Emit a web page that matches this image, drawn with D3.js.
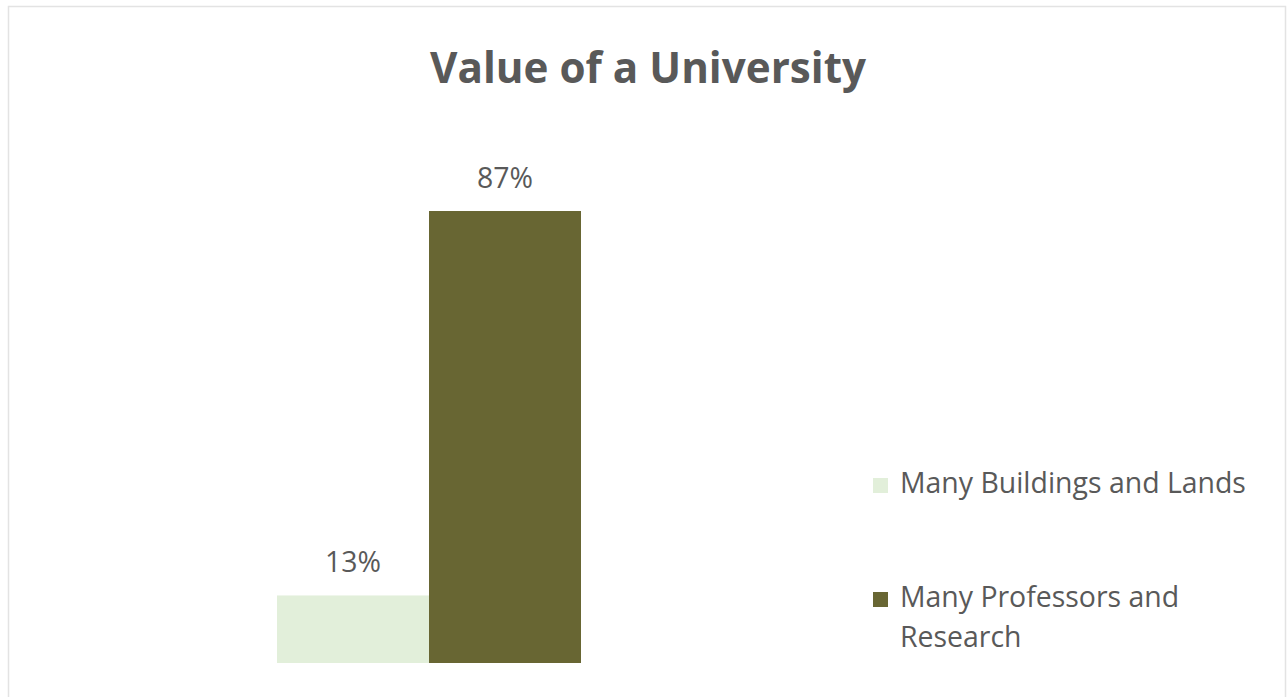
<!DOCTYPE html>
<html>
<head>
<meta charset="utf-8">
<script src="https://cdn.jsdelivr.net/npm/d3@7"></script>
<style>
  html, body { margin: 0; padding: 0; background: #ffffff; }
  svg { display: block; }
</style>
</head>
<body>
<svg id="chart" width="1287" height="697"></svg>
<script>
// Chart content
const title = "Value of a University";
const category = ["Value"];
const seriesNames = ["Many Buildings and Lands", "Many Professors and Research"];
const seriesValues = [13, 87];
const seriesColors = ["#E2EFDA", "#686633"];
const legendLines = [["Many Buildings and Lands"], ["Many Professors and", "Research"]];

const svg = d3.select("#chart");
const font = "'Open Sans', 'Liberation Sans', sans-serif";
const textColor = "#595959";

// Chart area frame
svg.append("rect")
  .attr("x", 8.5).attr("y", 6.5)
  .attr("width", 1277).attr("height", 700)
  .attr("fill", "#ffffff")
  .attr("stroke", "#e3e3e3")
  .attr("stroke-width", 1.5);

// Fit a text element to a target width by adjusting its font size
function fitWidth(sel, target) {
  const node = sel.node();
  const fs = parseFloat(sel.attr("font-size"));
  const w = node.getComputedTextLength();
  if (w > 0) sel.attr("font-size", (fs * target / w).toFixed(2));
}

// Title
const t = svg.append("text")
  .attr("x", 648).attr("y", 83)
  .attr("text-anchor", "middle")
  .attr("font-family", font)
  .attr("font-weight", 700)
  .attr("font-size", 40)
  .attr("fill", textColor)
  .text(title);
fitWidth(t, 436);

// Scales
const plotTop = 150, plotBottom = 663;
const x0 = d3.scaleBand().domain(category).range([125, 733]).paddingInner(0).paddingOuter(0.5);
const x1 = d3.scaleBand().domain(seriesNames).range([0, x0.bandwidth()]).padding(0);
const y = d3.scaleLinear().domain([0, 87 * (plotBottom - plotTop) / (plotBottom - 211)]).range([plotBottom, plotTop]);

const data = seriesNames.map((name, i) => ({ name, value: seriesValues[i], color: seriesColors[i] }));

const g = svg.append("g").attr("transform", `translate(${x0(category[0])},0)`);

g.selectAll("rect.bar")
  .data(data)
  .join("rect")
  .attr("class", "bar")
  .attr("x", d => x1(d.name))
  .attr("width", x1.bandwidth())
  .attr("y", d => y(d.value))
  .attr("height", d => y(0) - y(d.value))
  .attr("fill", d => d.color);

// Data labels
g.selectAll("text.lbl")
  .data(data)
  .join("text")
  .attr("class", "lbl")
  .attr("x", d => x1(d.name) + x1.bandwidth() / 2)
  .attr("y", d => y(d.value) - 23)
  .attr("text-anchor", "middle")
  .attr("font-family", font)
  .attr("font-size", 22)
  .attr("fill", textColor)
  .text(d => d.value + "%")
  .each(function() { fitWidth(d3.select(this), 56); });

// Legend
const legendY = [493, 607];
const legend = svg.append("g");
data.forEach((d, i) => {
  legend.append("rect")
    .attr("x", 873).attr("y", legendY[i] - 15)
    .attr("width", 15).attr("height", 15)
    .attr("fill", d.color);
  const txt = legend.append("text")
    .attr("x", 900).attr("y", legendY[i])
    .attr("font-family", font)
    .attr("font-size", 24)
    .attr("fill", textColor);
  legendLines[i].forEach((line, j) => {
    txt.append("tspan").attr("x", 900).attr("dy", j === 0 ? 0 : 40).text(line);
  });
});
// Scale legend text so the first entry spans its measured width
const lt = legend.selectAll("text");
const firstW = lt.nodes()[0].getComputedTextLength();
lt.attr("font-size", (24 * 346 / firstW).toFixed(2));
</script>
</body>
</html>
